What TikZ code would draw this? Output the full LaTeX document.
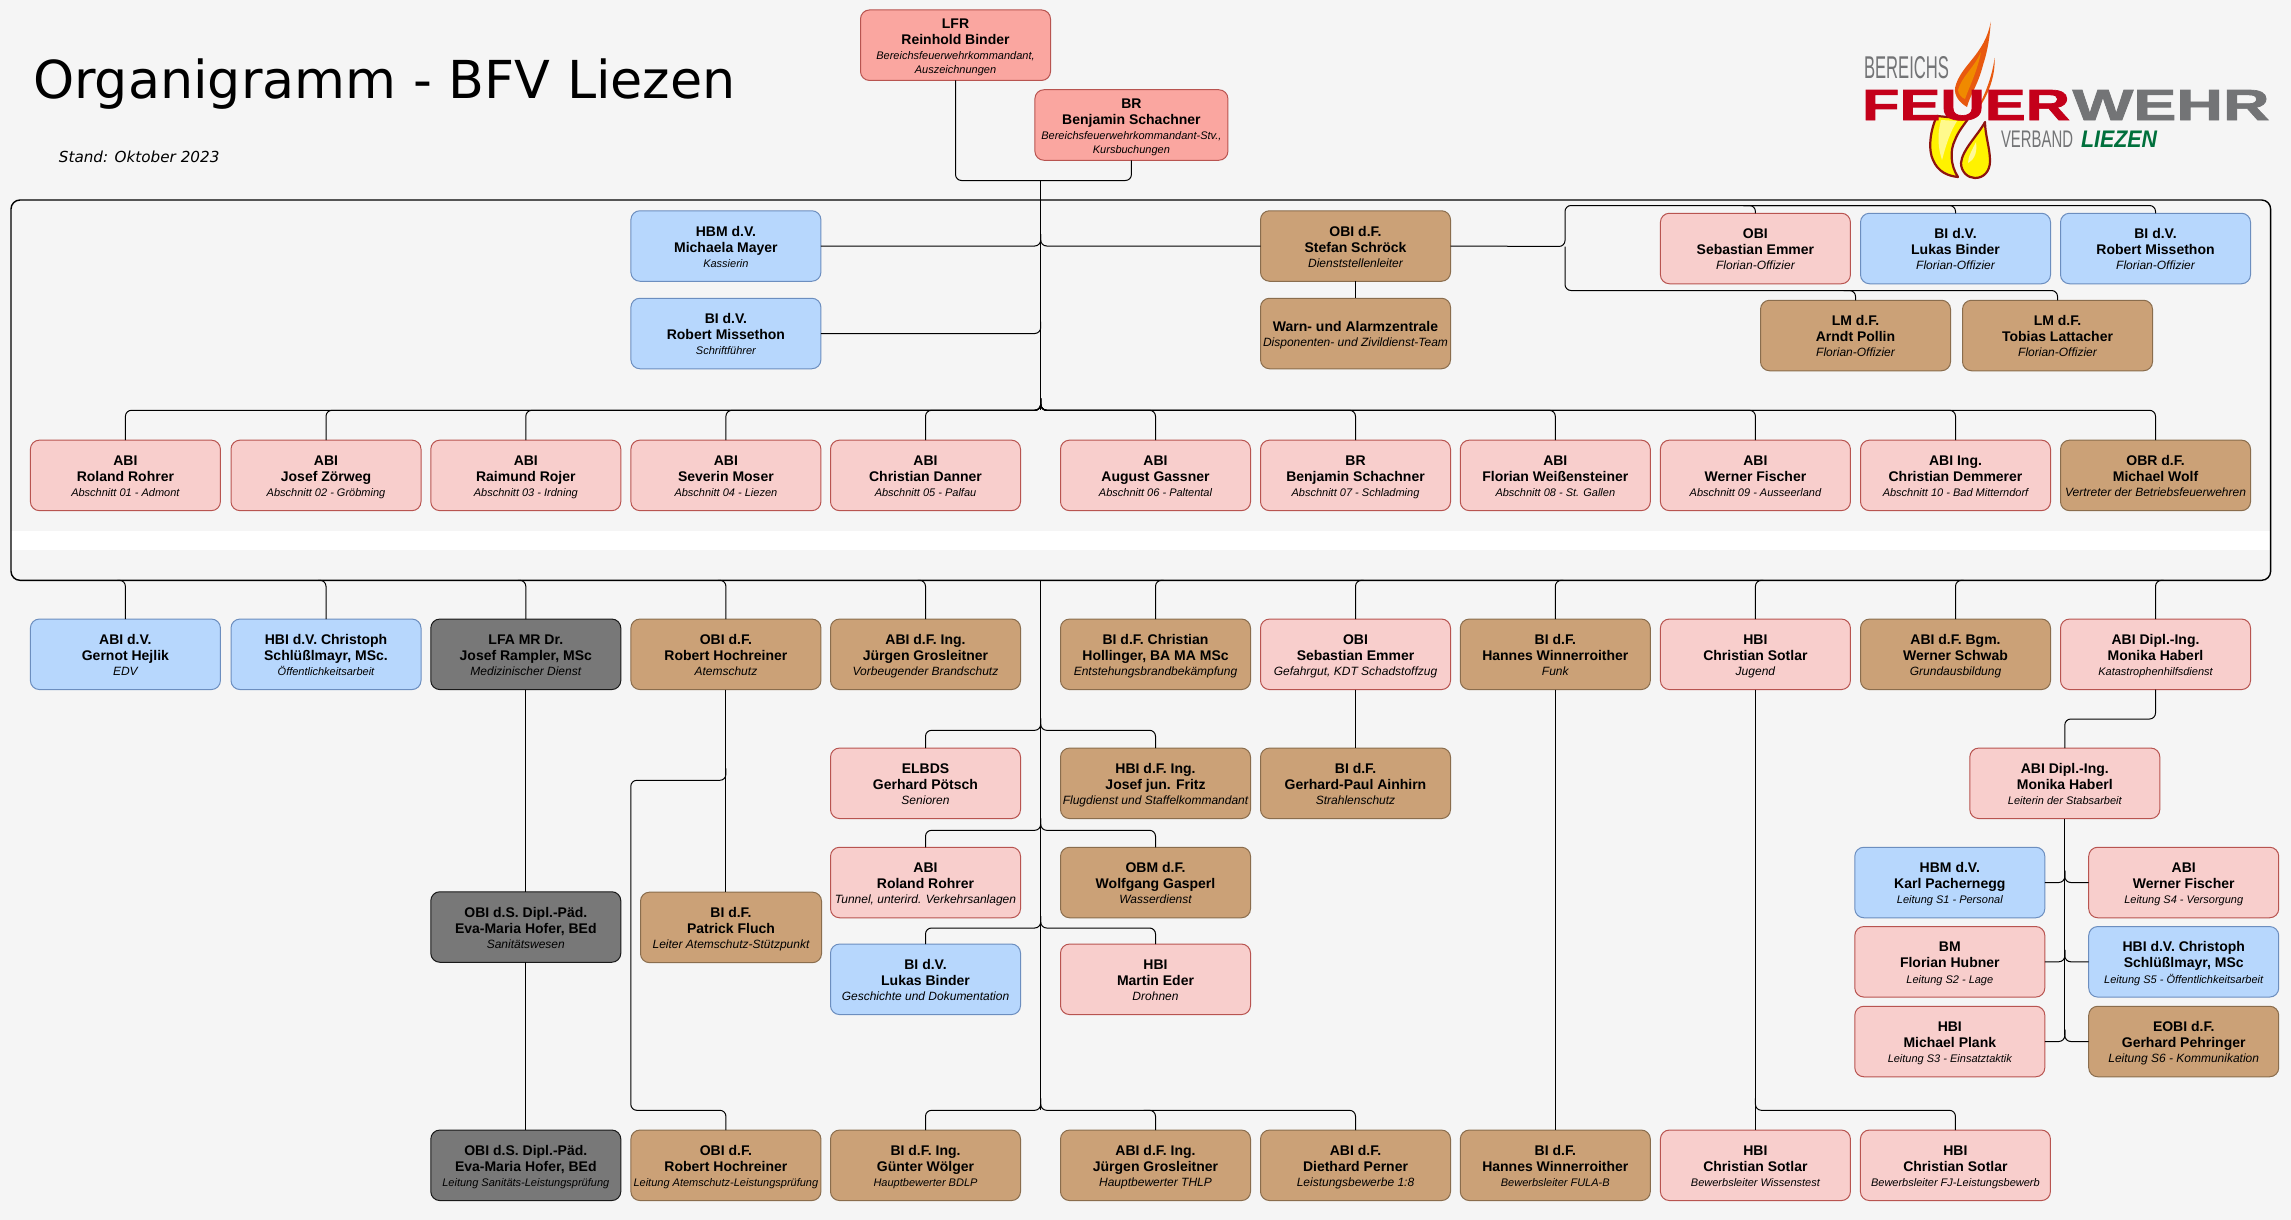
\documentclass[tikz,border=0pt]{standalone}
\usepackage{fontspec}
\usepackage{graphicx}
\setmainfont{Liberation Sans}
\newfontfamily\titlefont{DejaVu Sans}
\newfontfamily\logoheavy[BoldFeatures={FakeBold=1.5}]{Liberation Sans}
\usetikzlibrary{calc}
\definecolor{bgc}{HTML}{F5F5F5}
\definecolor{pinkf}{HTML}{F8CECC}
\definecolor{pinkd}{HTML}{B85450}
\definecolor{redf}{HTML}{FAA6A0}
\definecolor{bluef}{HTML}{B7D7FD}
\definecolor{blued}{HTML}{6C8EBF}
\definecolor{brownf}{HTML}{CBA177}
\definecolor{brownd}{HTML}{8A6D4D}
\definecolor{greyf}{HTML}{787878}
\definecolor{logored}{HTML}{C4001A}
\definecolor{logogrey}{HTML}{737476}
\definecolor{logogreen}{HTML}{00703C}
\definecolor{flamedark}{HTML}{8E1410}
\definecolor{flameor}{HTML}{E8590F}
\definecolor{flameor2}{HTML}{F08A00}
\newcommand{\dS}[1]{\raisebox{0.8pt}{\fontsize{11}{16}\selectfont\mdseries\itshape #1}\rule[-3pt]{0pt}{1pt}}
\newcommand{\dL}[1]{\raisebox{0.8pt}{\fontsize{12}{16}\selectfont\mdseries\itshape #1}\rule[-3pt]{0pt}{1pt}}
\newcommand{\bx}[6][190]{\node[#2,minimum width=#1pt] (#3) at (#4,#5) {\rule{0pt}{15pt}#6};}
\tikzset{
  box/.style={rounded corners=9pt,draw,line width=1pt,minimum height=70.5pt,inner sep=0pt,outer sep=0pt,
    align=center,font=\fontsize{14}{16}\selectfont\bfseries,text=black},
  pinkb/.style={box,fill=pinkf,draw=pinkd},
  redb/.style={box,fill=redf,draw=pinkd},
  blueb/.style={box,fill=bluef,draw=blued},
  brownb/.style={box,fill=brownf,draw=brownd},
  greyb/.style={box,fill=greyf,draw=black!90},
  conn/.style={draw=black,line width=1pt,rounded corners=6pt},
  framebox/.style={draw=black,line width=1.4pt,rounded corners=9pt,inner sep=0pt,outer sep=0pt},
  logotxt/.style={inner sep=0pt,outer sep=0pt,anchor=north west},
}
\begin{document}
\begin{tikzpicture}[x=1pt,y=-1pt]
\useasboundingbox (0,0) rectangle (2291,1220);
\fill[bgc] (0,0) rectangle (2291,1220);
\fill[white] (11,530.7) rectangle (2270.6,550);
\node[framebox,minimum width=2259.6pt,minimum height=380.3pt] (fr) at (1140.8,390.15) {};

% title
\node[inner sep=0pt,anchor=west] (title) at (33,84) {\titlefont\fontsize{52.3}{56}\selectfont Organigramm - BFV Liezen};
\node[inner sep=0pt,anchor=west] (stand) at (58.7,157) {\titlefont\itshape\fontsize{15.2}{18}\selectfont Stand: Oktober 2023};

% logo flames
\path[fill=flameor] (1990.7,21.7) .. controls (1985,55) and (1960,65) .. (1955,88) .. controls (1954,96) and (1960,103) .. (1967,107) .. controls (1970,95) and (1978,85) .. (1983,65) .. controls (1988,50) and (1990,35) .. (1990.7,21.7) -- cycle;
\path[fill=flameor2] (1981,52) .. controls (1974,68) and (1962,76) .. (1958,90) .. controls (1958,94) and (1962,98) .. (1965,99) .. controls (1970,85) and (1977,72) .. (1981,52) -- cycle;
\path[fill=flameor] (1994.5,58) .. controls (1993,72) and (1986,95) .. (1975,112) .. controls (1982,106) and (1996,82) .. (1994.5,58) -- cycle;
\path[fill=yellow,draw=flamedark,line width=2.2pt,line join=round] (1937,116) .. controls (1930,130) and (1928,150) .. (1933,160) .. controls (1938,172) and (1948,176) .. (1958,177) .. controls (1950,165) and (1950,150) .. (1955,140) .. controls (1958,132) and (1963,126) .. (1968,119) -- cycle;
\path[fill=white,opacity=.55] (1941,120) .. controls (1937,135) and (1938,148) .. (1942,160) .. controls (1946,145) and (1950,132) .. (1957,121) -- cycle;
\path[fill=yellow,draw=flamedark,line width=2.2pt,line join=round] (1985,122) .. controls (1978,135) and (1962,150) .. (1961,163) .. controls (1961,172) and (1968,178) .. (1975,178) .. controls (1984,178) and (1990,171) .. (1990,161) .. controls (1990,148) and (1985,135) .. (1985,122) -- cycle;
\path[fill=white,opacity=.6] (1976,142) .. controls (1972,150) and (1968,157) .. (1968,163) .. controls (1972,161) and (1978,155) .. (1976,142) -- cycle;
% logo text
\node[logotxt] (lb) at (1864,57) {\resizebox{85pt}{22pt}{\color{logogrey}BEREICHS}};
\node[logotxt] (lf) at (1862,90) {\resizebox{208pt}{30pt}{\color{logored}\logoheavy\bfseries FEUER}};
\node[logotxt] (lw) at (2072.5,90) {\resizebox{197pt}{30pt}{\color{logogrey}\logoheavy\bfseries WEHR}};
\node[logotxt] (lv) at (2001,131) {\resizebox{72pt}{16.5pt}{\color{logogrey}VERBAND}};
\node[logotxt] (ll) at (2081,131) {\resizebox{76pt}{16.5pt}{\color{logogreen}\bfseries\itshape LIEZEN}};

% top
\bx{redb}{lfr}{955.5}{45.2}{LFR\\Reinhold Binder\\\dS{Bereichsfeuerwehrkommandant,}\\[-2pt]\dS{Auszeichnungen}}
\bx[193]{redb}{brn}{1131.4}{125}{BR\\Benjamin Schachner\\\dS{Bereichsfeuerwehrkommandant-Stv.,}\\[-2pt]\dS{Kursbuchungen}}
\bx{blueb}{hbm}{725.9}{246}{HBM d.V.\\Michaela Mayer\\\dS{Kassierin}}
\bx{blueb}{rob}{725.9}{333.5}{BI d.V.\\Robert Missethon\\\dS{Schriftführer}}
\bx{brownb}{ste}{1355.5}{246}{OBI d.F.\\Stefan Schröck\\\dL{Dienststellenleiter}}
\bx{brownb}{war}{1355.5}{333.5}{Warn- und Alarmzentrale\\\dL{Disponenten- und Zivildienst-Team}}
\bx{pinkb}{fo1}{1755.4}{248.5}{OBI\\Sebastian Emmer\\\dL{Florian-Offizier}}
\bx{blueb}{fo2}{1955.5}{248.5}{BI d.V.\\Lukas Binder\\\dL{Florian-Offizier}}
\bx{blueb}{fo3}{2155.5}{248.5}{BI d.V.\\Robert Missethon\\\dL{Florian-Offizier}}
\bx{brownb}{fo4}{1855.5}{335.5}{LM d.F.\\Arndt Pollin\\\dL{Florian-Offizier}}
\bx{brownb}{fo5}{2057.5}{335.5}{LM d.F.\\Tobias Lattacher\\\dL{Florian-Offizier}}

% Abschnitte
\bx{pinkb}{a1}{125.4}{475.4}{ABI\\Roland Rohrer\\\dS{Abschnitt 01 - Admont}}
\bx{pinkb}{a2}{326}{475.4}{ABI\\Josef Zörweg\\\dS{Abschnitt 02 - Gröbming}}
\bx{pinkb}{a3}{525.8}{475.4}{ABI\\Raimund Rojer\\\dS{Abschnitt 03 - Irdning}}
\bx{pinkb}{a4}{725.9}{475.4}{ABI\\Severin Moser\\\dS{Abschnitt 04 - Liezen}}
\bx{pinkb}{a5}{925.5}{475.4}{ABI\\Christian Danner\\\dS{Abschnitt 05 - Palfau}}
\bx{pinkb}{a6}{1155.5}{475.4}{ABI\\August Gassner\\\dS{Abschnitt 06 - Paltental}}
\bx{pinkb}{a7}{1355.5}{475.4}{BR\\Benjamin Schachner\\\dS{Abschnitt 07 - Schladming}}
\bx{pinkb}{a8}{1555.3}{475.4}{ABI\\Florian Weißensteiner\\\dS{Abschnitt 08 - St. Gallen}}
\bx{pinkb}{a9}{1755.4}{475.4}{ABI\\Werner Fischer\\\dS{Abschnitt 09 - Ausseerland}}
\bx{pinkb}{a10}{1955.5}{475.4}{ABI Ing.\\Christian Demmerer\\\dS{Abschnitt 10 - Bad Mitterndorf}}
\bx{brownb}{a11}{2155.5}{475.4}{OBR d.F.\\Michael Wolf\\\dL{Vertreter der Betriebsfeuerwehren}}

% Sachgebiete
\bx{blueb}{s1}{125.4}{654.3}{ABI d.V.\\Gernot Hejlik\\\dL{EDV}}
\bx{blueb}{s2}{326}{654.3}{HBI d.V. Christoph\\Schlüßlmayr, MSc.\\\dS{Öffentlichkeitsarbeit}}
\bx{greyb}{s3}{525.8}{654.3}{LFA MR Dr.\\Josef Rampler, MSc\\\dL{Medizinischer Dienst}}
\bx{brownb}{s4}{725.9}{654.3}{OBI d.F.\\Robert Hochreiner\\\dL{Atemschutz}}
\bx{brownb}{s5}{925.5}{654.3}{ABI d.F. Ing.\\Jürgen Grosleitner\\\dL{Vorbeugender Brandschutz}}
\bx{brownb}{s6}{1155.5}{654.3}{BI d.F. Christian\\Hollinger, BA MA MSc\\\dL{Entstehungsbrandbekämpfung}}
\bx{pinkb}{s7}{1355.5}{654.3}{OBI\\Sebastian Emmer\\\dL{Gefahrgut, KDT Schadstoffzug}}
\bx{brownb}{s8}{1555.3}{654.3}{BI d.F.\\Hannes Winnerroither\\\dL{Funk}}
\bx{pinkb}{s9}{1755.4}{654.3}{HBI\\Christian Sotlar\\\dL{Jugend}}
\bx{brownb}{s10}{1955.5}{654.3}{ABI d.F. Bgm.\\Werner Schwab\\\dL{Grundausbildung}}
\bx{pinkb}{s11}{2155.5}{654.3}{ABI Dipl.-Ing.\\Monika Haberl\\\dS{Katastrophenhilfsdienst}}

% middle
\bx{pinkb}{m1}{925.5}{783.3}{ELBDS\\Gerhard Pötsch\\\dL{Senioren}}
\bx{brownb}{m2}{1155.5}{783.3}{HBI d.F. Ing.\\Josef jun. Fritz\\\dL{Flugdienst und Staffelkommandant}}
\bx{brownb}{m3}{1355.5}{783.3}{BI d.F.\\Gerhard-Paul Ainhirn\\\dL{Strahlenschutz}}
\bx{pinkb}{m4}{925.5}{882.5}{ABI\\Roland Rohrer\\\dL{Tunnel, unterird. Verkehrsanlagen}}
\bx{brownb}{m5}{1155.5}{882.5}{OBM d.F.\\Wolfgang Gasperl\\\dL{Wasserdienst}}
\bx{blueb}{m6}{925.5}{979.3}{BI d.V.\\Lukas Binder\\\dL{Geschichte und Dokumentation}}
\bx{pinkb}{m7}{1155.5}{979.3}{HBI\\Martin Eder\\\dL{Drohnen}}
\bx{greyb}{e1}{525.8}{927}{OBI d.S. Dipl.-Päd.\\Eva-Maria Hofer, BEd\\\dL{Sanitätswesen}}
\bx[181]{brownb}{pf}{731}{927.4}{BI d.F.\\Patrick Fluch\\\dL{Leiter Atemschutz-Stützpunkt}}

% Stab
\bx{pinkb}{st0}{2064.8}{783.3}{ABI Dipl.-Ing.\\Monika Haberl\\\dS{Leiterin der Stabsarbeit}}
\bx{blueb}{st1}{1949.8}{882.5}{HBM d.V.\\Karl Pachernegg\\\dS{Leitung S1 - Personal}}
\bx{pinkb}{st4}{2183.7}{882.5}{ABI\\Werner Fischer\\\dS{Leitung S4 - Versorgung}}
\bx{pinkb}{st2}{1949.8}{961.8}{BM\\Florian Hubner\\\dS{Leitung S2 - Lage}}
\bx{blueb}{st5}{2183.7}{961.8}{HBI d.V. Christoph\\Schlüßlmayr, MSc\\\dS{Leitung S5 - Öffentlichkeitsarbeit}}
\bx{pinkb}{st3}{1949.8}{1041.5}{HBI\\Michael Plank\\\dS{Leitung S3 - Einsatztaktik}}
\bx{brownb}{st6}{2183.7}{1041.5}{EOBI d.F.\\Gerhard Pehringer\\\dL{Leitung S6 - Kommunikation}}

% bottom
\bx{greyb}{b1}{525.8}{1165.3}{OBI d.S. Dipl.-Päd.\\Eva-Maria Hofer, BEd\\\dS{Leitung Sanitäts-Leistungsprüfung}}
\bx{brownb}{b2}{725.9}{1165.3}{OBI d.F.\\Robert Hochreiner\\\dS{Leitung Atemschutz-Leistungsprüfung}}
\bx{brownb}{b3}{925.5}{1165.3}{BI d.F. Ing.\\Günter Wölger\\\dS{Hauptbewerter BDLP}}
\bx{brownb}{b4}{1155.5}{1165.3}{ABI d.F. Ing.\\Jürgen Grosleitner\\\dL{Hauptbewerter THLP}}
\bx{brownb}{b5}{1355.5}{1165.3}{ABI d.F.\\Diethard Perner\\\dL{Leistungsbewerbe 1:8}}
\bx{brownb}{b6}{1555.3}{1165.3}{BI d.F.\\Hannes Winnerroither\\\dS{Bewerbsleiter FULA-B}}
\bx{pinkb}{b7}{1755.4}{1165.3}{HBI\\Christian Sotlar\\\dS{Bewerbsleiter Wissenstest}}
\bx{pinkb}{b8}{1955.4}{1165.3}{HBI\\Christian Sotlar\\\dS{Bewerbsleiter FJ-Leistungsbewerb}}

% junction coordinates
\coordinate (j1) at (1040.7,180.5);
\coordinate (ab) at (1040.7,410.3);
\coordinate (j2) at (1040.7,580.3);
\coordinate (c1) at (1040.7,730.3);
\coordinate (c2) at (1040.7,830.3);
\coordinate (c3) at (1040.7,928);
\coordinate (c4) at (1040.7,1110.3);
\coordinate (g1) at (1565,246.5);
\coordinate (g2) at (1700,205.5);
\coordinate (g3) at (1700,290.5);
\coordinate (r1) at (630.8,780.3);
\coordinate (r2) at (680,1110.3);
\coordinate (mj) at (2110,719);
\coordinate (sj) at (1855,1110.3);
\coordinate (se) at (2064.8,1035);

% connectors: each trunk is drawn once, its branches start from a short stub on it
\draw[conn] (lfr.south) |- (j1) -| (brn.south);
\draw[conn] (j1) -- (ab);
\draw[conn] ($(hbm.east -| j1)+(0,-12)$) |- (hbm.east);
\draw[conn] ($(ste.west -| j1)+(0,-12)$) |- (ste.west);
\draw[conn] ($(rob.east -| j1)+(0,-12)$) |- (rob.east);
\foreach \n in {a1,a2,a3,a4,a5,a6,a7,a8,a9,a10,a11}
  \draw[conn] ($(ab)+(0,-12)$) -- (ab) -| (\n.north);
\draw[conn] (ste.south) -- (war.north);
\draw[conn] (ste.east) -- (g1) |- (g2) -| (fo1.north);
\draw[conn] (g1) |- (g3) -| (fo4.north);
\foreach \n in {fo2,fo3}
  \draw[conn] ($(fo1.north |- g2)+(-12,0)$) -| (\n.north);
\draw[conn] ($(fo4.north |- g3)+(-12,0)$) -| (fo5.north);
% below the frame
\foreach \n in {s1,s2,s3,s4,s5}
  \draw[conn] ($(\n.north |- fr.south)+(-8,0)$) -| (\n.north);
\foreach \n in {s6,s7,s8,s9,s10,s11}
  \draw[conn] ($(\n.north |- fr.south)+(8,0)$) -| (\n.north);
\draw[conn] (j2) -- (c4);
\foreach \c/\n in {c1/m1,c1/m2,c2/m4,c2/m5,c3/m6,c3/m7,c4/b3,c4/b4}
  \draw[conn] ($(\c)+(0,-12)$) -- (\c) -| (\n.north);
\draw[conn] ($(b4.north |- c4)+(-12,0)$) -| (b5.north);
\draw[conn] (s7.south) -- (m3.north);
\draw[conn] (s3.south) -- (e1.north);
\draw[conn] (e1.south) -- (b1.north);
\draw[conn] (s4.south) -- (s4.south |- pf.north);
\draw[conn] ($(s4.south |- r1)+(0,-12)$) |- (r1) |- (r2) -| (b2.north);
\draw[conn] (s8.south) -- (b6.north);
\draw[conn] (s9.south) -- (b7.north);
\draw[conn] ($(s9.south |- sj)+(0,-12)$) |- (sj) -| (b8.north);
\draw[conn] (s11.south) |- (mj) -| (st0.north);
\draw[conn] (st0.south) -- (se);
\foreach \n in {st1,st2,st3}
  \draw[conn] ($(st0.south |- \n.east)+(0,-12)$) |- (\n.east);
\foreach \n in {st4,st5,st6}
  \draw[conn] ($(st0.south |- \n.west)+(0,-12)$) |- (\n.west);
\end{tikzpicture}
\end{document}
